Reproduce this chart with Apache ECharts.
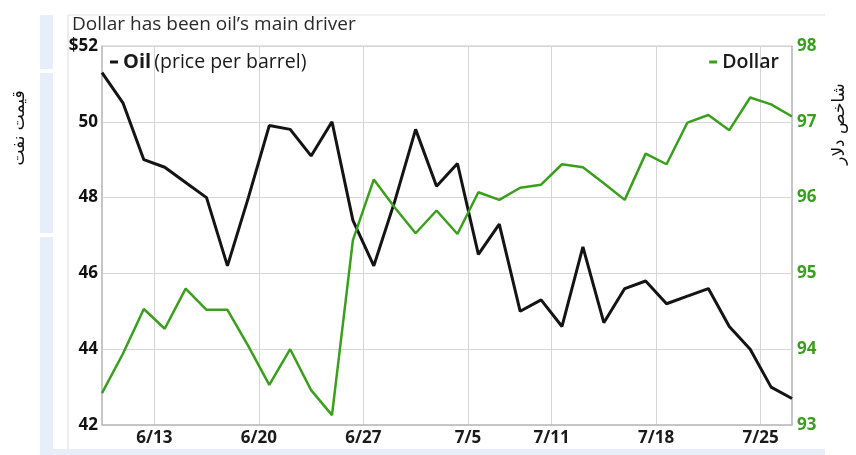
<!DOCTYPE html>
<html>
<head>
<meta charset="utf-8">
<script src="https://cdn.jsdelivr.net/npm/echarts@6/dist/echarts.min.js"></script>
<style>
  html, body { margin: 0; padding: 0; background: #fff; }
  #main { width: 856px; height: 455px; }
</style>
</head>
<body>
<div id="main"></div>
<script>
// trading days, 6/8 .. 7/26
var dates = ['6/8','6/9','6/10','6/13','6/14','6/15','6/16','6/17','6/20','6/21','6/22','6/23','6/24',
  '6/27','6/28','6/29','6/30','7/1','7/5','7/6','7/7','7/8','7/11','7/12','7/13','7/14','7/15',
  '7/18','7/19','7/20','7/21','7/22','7/25','7/26'];

var oilValues = [51.3, 50.5, 49.0, 48.8, 48.4, 48.0, 46.2, 48.0, 49.9, 49.8, 49.1, 50.0, 47.4,
  46.2, 47.9, 49.8, 48.3, 48.9, 46.5, 47.3, 45.0, 45.3, 44.6, 46.7, 44.7, 45.6,
  45.8, 45.2, 45.4, 45.6, 44.6, 44.0, 43.0, 42.7];

var dollarValues = [93.42, 93.94, 94.53, 94.27, 94.8, 94.52, 94.52, 94.04, 93.53, 94.0, 93.46, 93.13, 95.44,
  96.24, 95.87, 95.53, 95.83, 95.52, 96.07, 95.97, 96.13, 96.17, 96.44, 96.4, 96.19, 95.97,
  96.58, 96.44, 96.99, 97.09, 96.89, 97.32, 97.23, 97.07];

var tickLabels = ['6/13', '6/20', '6/27', '7/5', '7/11', '7/18', '7/25'];

// grid lines sit half a day before each labelled date
var tickPos = tickLabels.map(function (d) { return dates.indexOf(d) - 0.5; });

function toPairs(vals) {
  var out = [];
  for (var i = 0; i < vals.length; i++) out.push([i, vals[i]]);
  return out;
}

var green = '#3a9f1c';
var myChart = echarts.init(document.getElementById('main'));

var option = {
  animation: false,
  backgroundColor: '#fff',
  textStyle: { fontFamily: 'Open Sans' },
  grid: {
    left: 102, right: 64, top: 46, bottom: 30,
    show: true, borderColor: '#c8c8c8', borderWidth: 1
  },
  legend: [
    {
      data: ['Oil'], left: 105, top: 47,
      icon: 'rect', itemWidth: 8, itemHeight: 3, itemGap: 4,
      formatter: function () { return '{b|Oil} {n|(price per barrel)}'; },
      textStyle: {
        rich: {
          b: { fontFamily: 'Open Sans', fontSize: 20, fontWeight: 'bold', color: '#1a1a1a' },
          n: { fontFamily: 'Open Sans', fontSize: 19.5, color: '#1a1a1a' }
        }
      }
    },
    {
      data: ['Dollar'], right: 72, top: 47,
      icon: 'rect', itemWidth: 8, itemHeight: 3, itemGap: 4,
      textStyle: { fontFamily: 'Open Sans', fontSize: 19.5, fontWeight: 600, color: '#1a1a1a' }
    }
  ],
  xAxis: {
    type: 'value', min: 0, max: dates.length - 1,
    axisLine: { show: true, lineStyle: { color: '#bdbdbd', width: 1.5 } },
    axisTick: { show: false, customValues: tickPos },
    splitLine: { show: true, lineStyle: { color: '#d6d6d6' } },
    axisLabel: {
      customValues: tickPos,
      margin: 5,
      fontSize: 17, fontWeight: 'bold', color: '#1a1a1a', fontFamily: 'Open Sans',
      formatter: function (v) {
        var i = tickPos.indexOf(v);
        return i >= 0 ? tickLabels[i] : '';
      }
    }
  },
  yAxis: [
    {
      type: 'value', min: 42, max: 52, interval: 2,
      axisLine: { show: true, lineStyle: { color: '#bdbdbd', width: 1.5 } },
      axisTick: { show: false },
      splitLine: { show: true, lineStyle: { color: '#d6d6d6' } },
      axisLabel: {
        margin: 4, fontSize: 17, fontWeight: 'bold', color: '#111', fontFamily: 'Open Sans',
        formatter: function (v) { return v === 52 ? '$52' : v; }
      }
    },
    {
      type: 'value', min: 93, max: 98, interval: 1,
      axisLine: { show: true, lineStyle: { color: '#bdbdbd', width: 1.5 } },
      axisTick: { show: false },
      splitLine: { show: false },
      axisLabel: {
        margin: 5, fontSize: 17, fontWeight: 'bold', color: green, fontFamily: 'Open Sans'
      }
    }
  ],
  series: [
    {
      name: 'Oil', type: 'line', yAxisIndex: 0,
      data: toPairs(oilValues),
      symbol: 'none',
      itemStyle: { color: '#141414' },
      lineStyle: { color: '#141414', width: 3 }
    },
    {
      name: 'Dollar', type: 'line', yAxisIndex: 1,
      data: toPairs(dollarValues),
      symbol: 'none',
      itemStyle: { color: green },
      lineStyle: { color: green, width: 2.5 }
    }
  ],
  graphic: [
    // light blue frame strips
    { type: 'rect', shape: { x: 40, y: 15, width: 13, height: 54 }, style: { fill: '#e6eef9' }, silent: true },
    { type: 'rect', shape: { x: 40, y: 73, width: 13, height: 160 }, style: { fill: '#e6eef9' }, silent: true },
    { type: 'rect', shape: { x: 40, y: 237, width: 13, height: 218 }, style: { fill: '#e6eef9' }, silent: true },
    { type: 'rect', shape: { x: 40, y: 449, width: 785, height: 6 }, style: { fill: '#e6eef9' }, silent: true },
    // thin frame lines
    { type: 'line', shape: { x1: 68, y1: 15, x2: 825, y2: 15 }, style: { stroke: '#e2e2e2', lineWidth: 1 }, silent: true },
    { type: 'line', shape: { x1: 68, y1: 15, x2: 68, y2: 449 }, style: { stroke: '#dcdcdc', lineWidth: 1 }, silent: true },
    {
      type: 'text', left: 72, top: 15,
      style: { text: "Dollar has been oil\u2019s main driver", fontFamily: 'Open Sans', fontSize: 19, fill: '#2a2a2a' }
    },
    {
      type: 'text', x: 20, y: 128, rotation: Math.PI / 2,
      style: { text: 'قیمت نفت', fontFamily: 'DejaVu Sans', fontSize: 17, fill: '#111', align: 'center', verticalAlign: 'middle' }
    },
    {
      type: 'text', x: 840, y: 124, rotation: Math.PI / 2,
      style: { text: 'شاخص دلار', fontFamily: 'DejaVu Sans', fontSize: 17, fill: '#111', align: 'center', verticalAlign: 'middle' }
    }
  ]
};

myChart.setOption(option);
</script>
</body>
</html>
